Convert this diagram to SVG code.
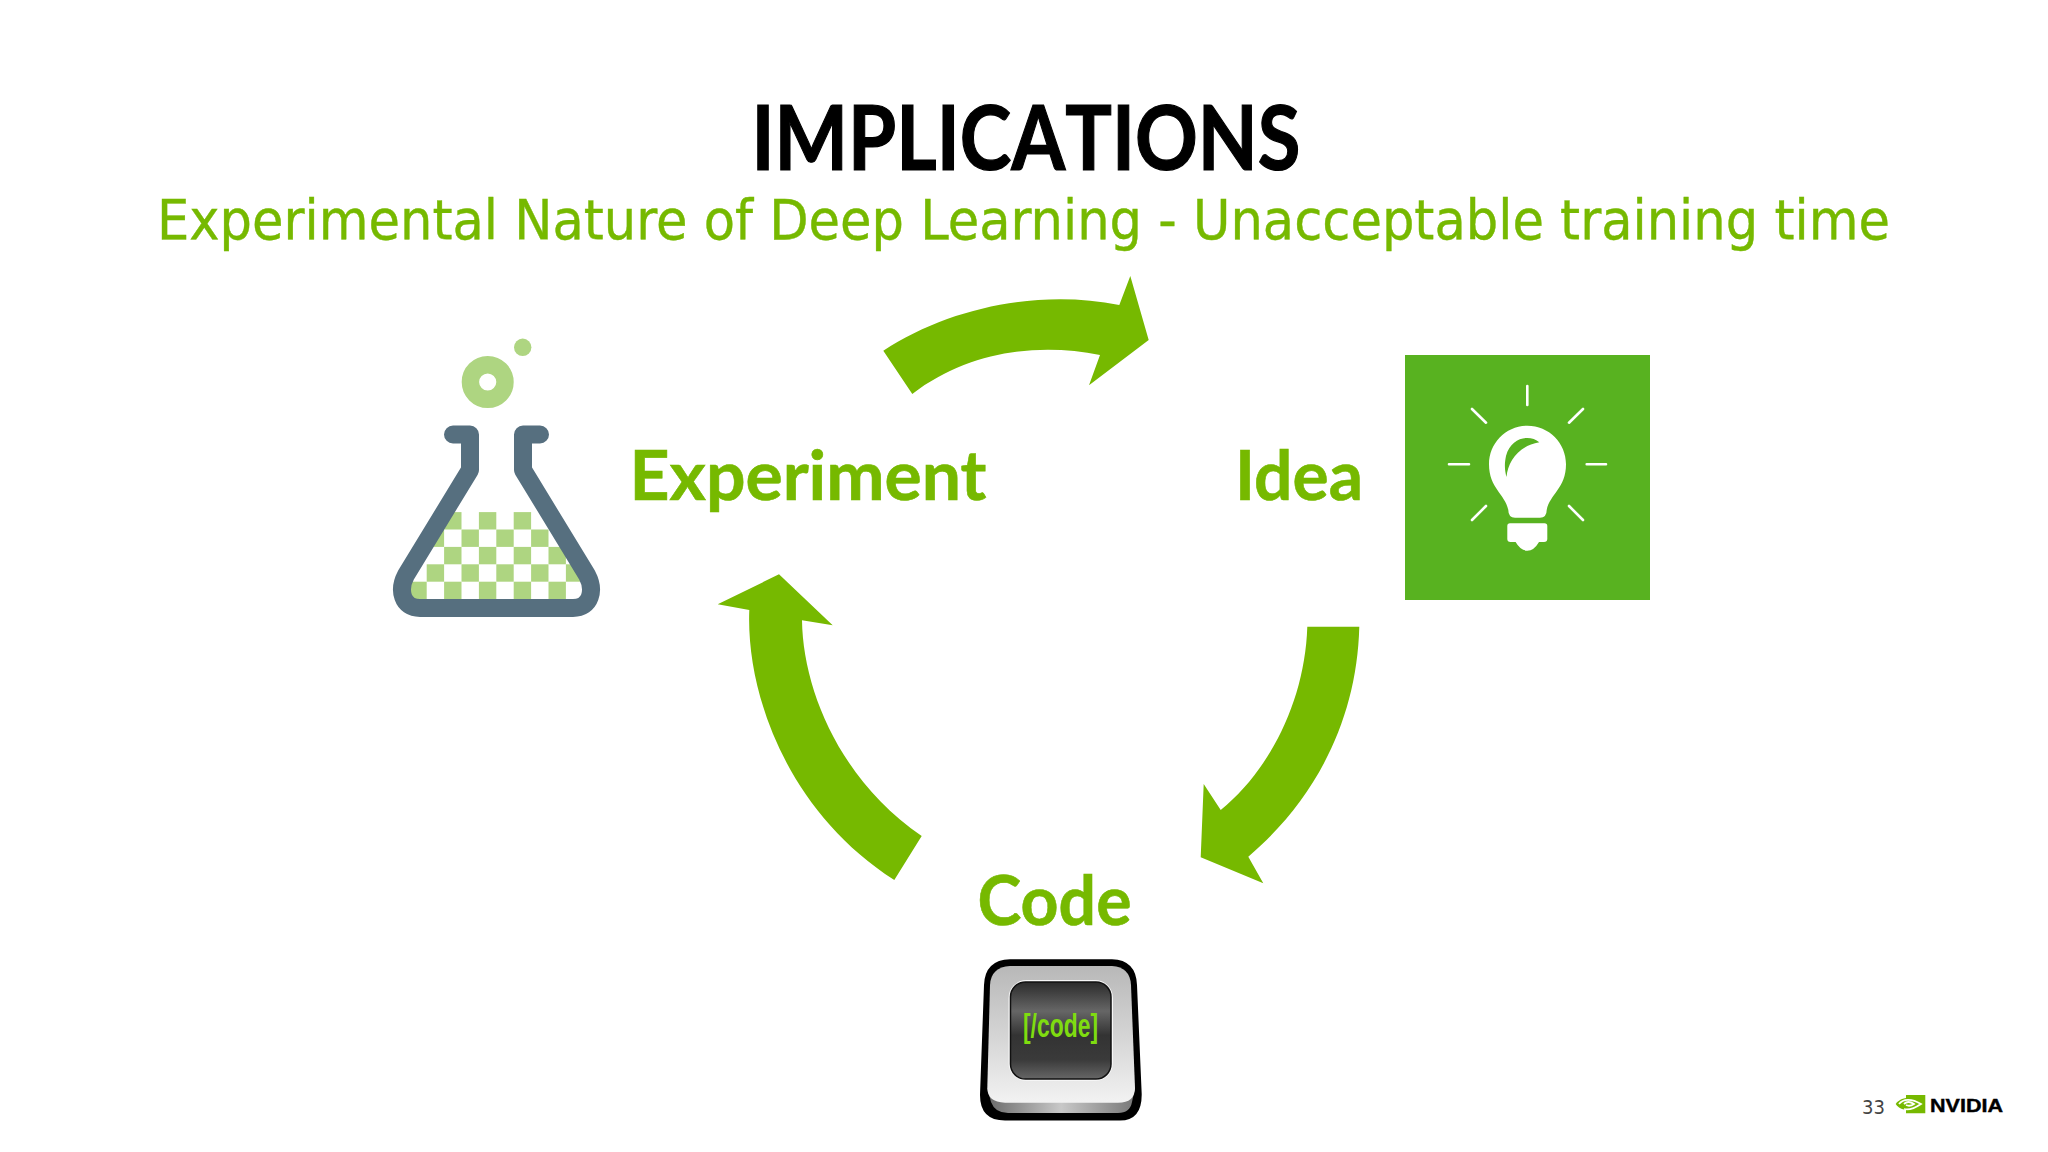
<svg xmlns="http://www.w3.org/2000/svg" width="2048" height="1152" viewBox="0 0 2048 1152">
<style>
.lbl{font-family:"Lato","Noto Sans",sans-serif;font-weight:700;font-size:68px;fill:#76b900;stroke:#76b900;stroke-width:.6}
.arrow{fill:#76b900}
.chk{fill:#aed581}
.ray{stroke:#fff;stroke-width:2.6;stroke-linecap:round;fill:none}
</style>
<defs>
<clipPath id="flaskClip"><path d="M470,470 L406,575 C398,590 402,608 420,608 H573 C591,608 595,590 587,575 L523,470 Z"/></clipPath>
<linearGradient id="face" x1="0" y1="0" x2="0" y2="1"><stop offset="0" stop-color="#b8b8b8"/><stop offset=".5" stop-color="#d4d4d4"/><stop offset="1" stop-color="#f2f2f2"/></linearGradient>
<linearGradient id="side" x1="0" y1="0" x2="1" y2="0"><stop offset="0" stop-color="#6a6a6a"/><stop offset=".5" stop-color="#c8c8c8"/><stop offset="1" stop-color="#777"/></linearGradient>
<linearGradient id="screen" x1="0" y1="0" x2="0" y2="1"><stop offset="0" stop-color="#2b2b2b"/><stop offset=".3" stop-color="#666"/><stop offset=".55" stop-color="#333"/><stop offset=".8" stop-color="#3a3a3a"/><stop offset="1" stop-color="#666"/></linearGradient>
</defs>
<rect width="2048" height="1152" fill="#fff"/>
<g id="title">
<text x="1026" y="170" text-anchor="middle" font-family="Lato,'Noto Sans',sans-serif" font-weight="700" font-size="89" textLength="549" lengthAdjust="spacingAndGlyphs" style="font-kerning:none" fill="#000" stroke="#000" stroke-width="1.2">IMPLICATIONS</text>
<text x="157" y="239" font-family="'DejaVu Sans',sans-serif" font-stretch="condensed" font-size="56" textLength="1733" lengthAdjust="spacingAndGlyphs" fill="#76b900" stroke="#76b900" stroke-width=".4">Experimental Nature of Deep Learning - Unacceptable training time</text>
</g>
<g id="connectors">
<path id="arrow-experiment-idea" class="arrow" d="M883.3,350.7 C950,307 1040,289 1119.3,305 L1130.3,276 L1148.7,340 L1089,385.3 L1100,355 C1040,343 970,350 912.3,394 Z"/>
<path id="arrow-idea-code" class="arrow" d="M1307.3,626.7 H1359.3 C1357,720 1315,800 1248.3,856.7 L1263.3,883.3 L1200.7,857.3 L1203.7,784 L1220.7,810 C1270,770 1305,700 1307.3,626.7 Z"/>
<path id="arrow-code-experiment" class="arrow" d="M894.3,880 C785,810 746,690 749.3,610 L717.7,604.3 L779,574.3 L832.7,625.3 L802,620.3 C803,690 840,780 921.7,836 Z"/>
</g>
<g id="node-experiment">
<circle cx="487.7" cy="382" r="17.3" fill="none" stroke="#aed581" stroke-width="17.4"/>
<circle cx="522.7" cy="347.3" r="8.7" fill="#aed581"/>
<g clip-path="url(#flaskClip)">
<rect class="chk" x="409.3" y="581.7" width="17.4" height="17.4"/><rect class="chk" x="444.1" y="581.7" width="17.4" height="17.4"/><rect class="chk" x="478.9" y="581.7" width="17.4" height="17.4"/><rect class="chk" x="513.7" y="581.7" width="17.4" height="17.4"/><rect class="chk" x="548.5" y="581.7" width="17.4" height="17.4"/>
<rect class="chk" x="426.7" y="564.3" width="17.4" height="17.4"/><rect class="chk" x="461.5" y="564.3" width="17.4" height="17.4"/><rect class="chk" x="496.3" y="564.3" width="17.4" height="17.4"/><rect class="chk" x="531.1" y="564.3" width="17.4" height="17.4"/><rect class="chk" x="565.9" y="564.3" width="17.4" height="17.4"/>
<rect class="chk" x="444.1" y="546.9" width="17.4" height="17.4"/><rect class="chk" x="478.9" y="546.9" width="17.4" height="17.4"/><rect class="chk" x="513.7" y="546.9" width="17.4" height="17.4"/><rect class="chk" x="548.5" y="546.9" width="17.4" height="17.4"/>
<rect class="chk" x="426.7" y="529.5" width="17.4" height="17.4"/><rect class="chk" x="461.5" y="529.5" width="17.4" height="17.4"/><rect class="chk" x="496.3" y="529.5" width="17.4" height="17.4"/><rect class="chk" x="531.1" y="529.5" width="17.4" height="17.4"/>
<rect class="chk" x="444.1" y="512.1" width="17.4" height="17.4"/><rect class="chk" x="478.9" y="512.1" width="17.4" height="17.4"/><rect class="chk" x="513.7" y="512.1" width="17.4" height="17.4"/>
</g>
<path d="M453,434.5 H470 V470 L406,575 C398,590 402,608 420,608 H573 C591,608 595,590 587,575 L523,470 V434.5 H540" fill="none" stroke="#566f7f" stroke-width="18" stroke-linecap="round" stroke-linejoin="round"/>
<text class="lbl" x="629.5" y="500" textLength="357" lengthAdjust="spacingAndGlyphs">Experiment</text>
</g>
<g id="node-idea">
<rect x="1405" y="355" width="245" height="245" fill="#58b220"/>
<path class="ray" d="M1527.3,386 V405 M1449,464.3 H1469 M1586.7,464.3 H1606 M1472,409 L1486,422.7 M1583,409 L1569,422.7 M1486,506 L1472,520 M1569,506 L1583,520"/>
<path fill="#fff" d="M1527.3,425.7 C1549,425.7 1566,443 1566,464.3 C1566,488 1550,494 1546.7,510 Q1546.7,517.7 1540,517.7 H1515 Q1508.3,517.7 1508.3,510 C1505,494 1489,488 1489,464.3 C1489,443 1506,425.7 1527.3,425.7 Z"/>
<path fill="#fff" d="M1510,523.3 H1544.5 Q1547.3,523.3 1547.3,526 V539 Q1547.3,542 1544,542 H1539 Q1534,550.7 1527.3,550.7 Q1520.6,550.7 1515.6,542 H1510.5 Q1507.3,542 1507.3,539 V526 Q1507.3,523.3 1510,523.3 Z"/>
<path fill="#58b220" d="M1539.3,442.3 C1530,434 1511,437 1506,456 C1504,465 1505,472 1506.5,477 C1508,462 1518,446 1539.3,442.3 Z"/>
<text class="lbl" x="1235" y="500" textLength="128" lengthAdjust="spacingAndGlyphs">Idea</text>
</g>
<g id="node-code">
<text class="lbl" x="977.5" y="925" textLength="154" lengthAdjust="spacingAndGlyphs">Code</text>
<path fill="#000" d="M1010,959.3 H1112 Q1136,960 1137,985 L1141.7,1094 Q1142,1120.5 1120,1120.5 H1005 Q980,1120.5 980,1095 L984,985 Q985,960 1010,959.3 Z"/>
<path fill="url(#side)" d="M987.3,1088 L991,1102 Q995,1113 1008,1113 H1118 Q1130,1113 1132,1102 L1135,1088 Z"/>
<path fill="url(#face)" d="M1010,966 H1112 Q1130,967 1131,985 L1135,1088 Q1135,1102.7 1118,1102.7 H1005 Q987.3,1102 987.3,1088 L990,985 Q991,967 1010,966 Z"/>
<rect x="1008.5" y="980" width="104.5" height="101" rx="18" fill="#f6f6f6"/>
<rect x="1010.5" y="982" width="100.5" height="97" rx="15" fill="url(#screen)" stroke="#111" stroke-width="1.5"/>
<text x="1060.5" y="1037" text-anchor="middle" font-family="'Liberation Sans',sans-serif" font-weight="700" font-size="34" textLength="75" lengthAdjust="spacingAndGlyphs" fill="#7fdc10">[/code]</text>
</g>
<g id="footer">
<text x="1862" y="1114" font-family="'DejaVu Sans',sans-serif" font-stretch="condensed" font-size="20" fill="#444">33</text>
<path fill="#76b900" d="M1906,1095 H1925.3 V1113.3 H1906 V1110 C1900,1109 1897,1106 1895.7,1104 C1897,1102 1900,1099 1906,1098 Z"/>
<path fill="none" stroke="#fff" stroke-width="1.8" d="M1899,1104 C1903,1099 1911,1098 1921,1104 C1915,1108 1908,1110 1904,1109 M1904,1104 C1907,1101 1911,1102 1914,1104 C1911,1106 1908,1106 1906,1105"/>
<text x="1930" y="1112" font-family="'Liberation Sans',sans-serif" font-weight="700" font-size="19" textLength="73" lengthAdjust="spacingAndGlyphs" fill="#000" stroke="#000" stroke-width=".4">NVIDIA</text>
</g>
</svg>
